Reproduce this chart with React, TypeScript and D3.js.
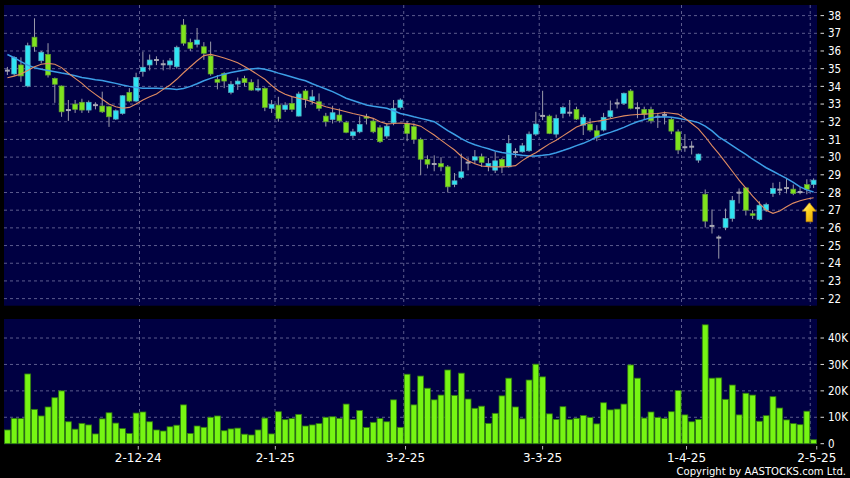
import React, { useEffect } from 'react';
import * as d3 from 'd3';

const opens = [34.9, 34.70, 35.21, 34.02, 36.78, 35.45, 35.81, 34.45, 34.02, 32.68,
 33.0, 33.1, 32.66, 32.95, 32.89, 32.85, 32.15, 32.47, 33.66, 33.17,
 34.83, 35.21, 35.5, 35.26, 35.21, 35.11, 37.47, 36.49, 36.38, 36.24,
 35.72, 34.40, 34.74, 33.66, 34.13, 34.45, 34.23, 33.79, 33.89, 32.76,
 32.94, 32.70, 33.04, 32.32, 33.74, 33.19, 33.13, 32.32, 32.13, 32.38,
 31.96, 31.21, 31.43, 32.3, 32.04, 31.66, 31.19, 31.94, 32.81, 31.91,
 31.72, 31.0, 29.87, 29.62, 29.64, 29.45, 28.45, 28.85, 29.7, 29.83,
 30.02, 29.49, 29.26, 29.87, 29.45, 30.3, 30.30, 30.36, 31.30, 32.34,
 32.32, 31.30, 32.47, 32.52, 32.70, 31.81, 31.87, 31.49, 31.53, 32.28,
 33.05, 33.04, 33.74, 32.78, 32.70, 32.70, 32.3, 32.4, 32.13, 31.43,
 30.57, 30.6, 29.83, 27.90, 26.12, 25.46, 26.02, 26.53, 28.0, 28.26,
 26.8, 26.47, 27.0, 27.94, 28.17, 28.26, 28.19, 28.03, 28.45, 28.45];

const highs = [35.1, 35.70, 35.64, 36.47, 37.85, 36.0, 36.44, 34.5, 34.05, 33.23,
 33.23, 33.3, 33.2, 33.1, 33.7, 32.9, 32.7, 33.5, 33.9, 34.77,
 35.96, 35.8, 35.7, 35.5, 35.6, 36.3, 37.81, 36.7, 37.3, 36.5,
 36.53, 34.64, 34.8, 34.3, 34.5, 34.6, 34.4, 34.4, 33.95, 33.23,
 33.41, 33.1, 33.41, 33.7, 33.85, 33.8, 33.6, 32.5, 32.9, 32.75,
 32.05, 31.6, 32.3, 32.45, 32.2, 31.8, 31.9, 33.23, 33.32, 32.05,
 31.9, 31.1, 30.1, 30.1, 30.0, 29.55, 29.1, 30.2, 29.95, 30.4,
 30.2, 29.95, 30.3, 29.95, 31.25, 30.5, 30.8, 31.45, 32.56, 33.75,
 32.4, 32.4, 32.9, 33.23, 32.85, 32.4, 32.2, 31.8, 32.5, 33.2,
 33.3, 33.65, 33.85, 33.1, 32.85, 32.85, 32.5, 32.58, 32.25, 31.57,
 31.30, 30.9, 30.2, 28.17, 27.04, 25.58, 27.09, 27.8, 28.23, 28.3,
 27.0, 27.5, 27.42, 28.55, 28.6, 28.79, 28.45, 28.3, 28.75, 28.8];

const lows = [34.64, 34.60, 34.26, 33.95, 35.96, 35.3, 34.5, 33.07, 32.28, 32.05,
 32.5, 32.5, 32.5, 32.7, 32.5, 31.71, 32.1, 32.4, 33.1, 33.1,
 34.55, 34.9, 35.2, 34.9, 34.95, 35.0, 36.3, 36.0, 36.2, 35.5,
 34.6, 33.83, 33.9, 33.55, 33.8, 34.0, 33.75, 33.7, 32.6, 32.5,
 32.0, 32.55, 32.55, 32.3, 32.79, 33.0, 32.6, 31.73, 31.9, 31.95,
 31.35, 31.05, 31.35, 31.85, 31.35, 30.8, 31.05, 31.8, 32.7, 30.9,
 30.75, 28.98, 29.36, 29.2, 29.2, 28.0, 28.3, 28.75, 29.25, 29.6,
 29.45, 29.2, 29.1, 29.1, 29.4, 30.0, 30.25, 30.3, 31.2, 32.09,
 31.3, 31.1, 32.2, 32.3, 32.1, 31.25, 31.43, 30.9, 31.45, 32.2,
 32.75, 32.95, 32.7, 32.2, 32.1, 31.9, 31.65, 31.85, 31.3, 30.17,
 30.30, 30.15, 29.68, 26.02, 25.68, 24.26, 25.87, 26.35, 27.38, 26.7,
 26.5, 26.4, 26.9, 27.75, 27.85, 27.95, 27.85, 27.9, 27.9, 28.25];

const closes = [34.88, 35.64, 34.59, 36.30, 36.24, 35.93, 34.64, 34.12, 32.56, 32.64,
 32.7, 32.66, 33.1, 32.93, 32.56, 32.28, 32.62, 33.47, 33.17, 34.51,
 35.08, 35.49, 35.48, 35.24, 35.44, 36.21, 36.44, 36.15, 36.62, 35.87,
 34.70, 34.23, 34.30, 34.12, 34.30, 34.21, 33.79, 33.89, 32.81, 32.98,
 32.19, 32.94, 32.70, 33.57, 33.27, 33.41, 32.76, 32.0, 32.51, 32.05,
 31.40, 31.43, 31.85, 32.2, 31.43, 30.87, 31.75, 32.76, 33.23, 31.34,
 31.0, 29.88, 29.6, 29.6, 29.45, 28.32, 28.66, 29.17, 29.68, 30.02,
 29.7, 29.64, 29.79, 29.45, 30.77, 30.27, 30.64, 31.30, 31.87, 32.32,
 31.34, 32.19, 32.8, 32.5, 32.15, 32.25, 31.53, 31.11, 32.25, 32.62,
 33.03, 33.61, 32.76, 32.76, 32.43, 32.05, 32.27, 32.37, 31.47, 30.40,
 30.55, 30.58, 30.17, 26.38, 26.10, 25.44, 26.53, 27.56, 27.98, 27.0,
 26.7, 27.28, 27.32, 28.23, 28.15, 28.24, 27.94, 28.02, 28.17, 28.70];

// volume in thousands of shares
const volumes = [5.2, 9.6, 9.5, 26.4, 13.0, 10.5, 13.9, 17.4, 20.0, 8.3,
 5.5, 7.7, 7.1, 3.7, 9.4, 11.7, 7.8, 5.7, 3.9, 11.6,
 12.0, 8.3, 5.2, 4.8, 6.4, 7.0, 14.7, 3.9, 6.7, 6.2,
 10.0, 10.5, 4.9, 5.6, 5.9, 3.6, 3.3, 5.2, 9.7, 3.7,
 12.1, 9.1, 9.5, 11.1, 6.7, 7.1, 7.6, 10.0, 10.2, 9.6,
 15.0, 9.2, 12.6, 6.1, 8.1, 9.5, 8.3, 16.6, 6.2, 26.3,
 14.7, 25.6, 21.0, 16.6, 18.4, 27.9, 18.3, 26.7, 16.9, 13.4,
 14.2, 7.7, 11.5, 18.1, 24.8, 13.9, 9.4, 24.1, 30.1, 25.3,
 11.3, 9.2, 14.0, 9.1, 9.6, 10.7, 9.9, 7.5, 15.5, 12.8,
 13.1, 15.0, 29.8, 24.8, 9.7, 12.0, 9.9, 9.5, 12.1, 20.1,
 10.9, 8.3, 9.2, 45.0, 24.8, 24.9, 16.8, 22.2, 10.9, 19.1,
 18.4, 8.5, 10.6, 17.8, 13.5, 9.0, 7.6, 7.2, 12.3, 1.5];

const maShort = [34.49, 34.58, 34.70, 34.90, 35.11, 35.25, 35.30, 35.25, 35.06, 34.74,
 34.45, 34.17, 33.83, 33.55, 33.27, 33.00, 32.85, 32.76, 32.81, 33.00,
 33.23, 33.41, 33.57, 33.83, 34.08, 34.40, 34.77, 35.11, 35.45, 35.74,
 35.81, 35.72, 35.60, 35.48, 35.33, 35.12, 34.90, 34.65, 34.40, 34.05,
 33.75, 33.55, 33.42, 33.33, 33.25, 33.12, 32.98, 32.85, 32.75, 32.66,
 32.57, 32.47, 32.38, 32.29, 32.19, 32.00, 31.88, 31.90, 31.93, 31.90,
 31.85, 31.75, 31.50, 31.25, 30.96, 30.68, 30.40, 30.05, 29.80, 29.62,
 29.50, 29.46, 29.45, 29.45, 29.47, 29.52, 29.80, 30.05, 30.25, 30.50,
 30.75, 30.95, 31.20, 31.45, 31.70, 31.85, 31.97, 32.03, 32.09, 32.17,
 32.25, 32.33, 32.38, 32.41, 32.43, 32.45, 32.47, 32.52, 32.48, 32.43,
 32.20, 31.90, 31.60, 31.15, 30.65, 30.20, 29.70, 29.20, 28.70, 28.25,
 27.80, 27.38, 27.00, 26.82, 26.95, 27.19, 27.40, 27.53, 27.63, 27.70];

const maLong = [35.80, 35.62, 35.40, 35.20, 35.05, 34.97, 34.90, 34.83, 34.75, 34.68,
 34.60, 34.50, 34.45, 34.38, 34.33, 34.25, 34.17, 34.08, 34.00, 33.93,
 33.90, 33.89, 33.89, 33.88, 33.86, 33.83, 33.88, 34.00, 34.15, 34.32,
 34.45, 34.58, 34.68, 34.78, 34.86, 34.93, 34.98, 35.02, 34.97, 34.87,
 34.75, 34.64, 34.53, 34.42, 34.32, 34.15, 34.00, 33.85, 33.70, 33.52,
 33.33, 33.20, 33.07, 32.95, 32.88, 32.82, 32.76, 32.62, 32.47, 32.38,
 32.28, 32.19, 32.10, 32.00, 31.75, 31.50, 31.28, 31.05, 30.85, 30.70,
 30.58, 30.47, 30.35, 30.26, 30.20, 30.15, 30.10, 30.07, 30.07, 30.10,
 30.15, 30.25, 30.37, 30.50, 30.65, 30.78, 30.95, 31.15, 31.28, 31.40,
 31.53, 31.68, 31.85, 32.00, 32.12, 32.23, 32.27, 32.28, 32.25, 32.20,
 32.12, 32.05, 31.95, 31.75, 31.48, 31.15, 30.90, 30.65, 30.40, 30.15,
 29.88, 29.64, 29.40, 29.20, 29.00, 28.80, 28.57, 28.32, 28.15, 28.03];

const priceTicks = [22, 23, 24, 25, 26, 27, 28, 29, 30, 31, 32, 33, 34, 35, 36, 37, 38];
const volumeTicks = [0, 10, 20, 30, 40];
const dateTickIndex = [20, 40, 59, 79, 100, 119];
const dateTickLabels = ['2-12-24', '2-1-25', '3-2-25', '3-3-25', '1-4-25', '2-5-25'];

const W = 850;
const H = 478;
const PLOT_L = 4;
const PLOT_R = 817;
const PRICE_TOP = 5;
const PRICE_BOTTOM = 305.7;
const VOL_TOP = 319;
const VOL_BOTTOM = 443.7;

const BG = '#000042';
const GRID = '#5c5c8e';
const UP = '#2fe4f2';
const UP_EDGE = '#5aa9bd';
const DOWN = '#7fe31e';
const DOWN_EDGE = '#62a033';
const DOJI = '#a8a8b4';
const WICK = '#9a9aaa';
const VOL_FILL = '#76f513';
const VOL_EDGE = '#2f7a10';

export default function App() {
  useEffect(() => {
    document.body.style.margin = '0';
    document.body.style.background = '#000';
  }, []);

  const idx = d3.range(closes.length);
  const x = d3.scaleBand<number>().domain(idx).range([PLOT_L, PLOT_R]).paddingInner(0).paddingOuter(0);
  const step = x.step();
  const cx = (i: number) => (x(i) as number) + step / 2;
  const gridX = (i: number) => PLOT_L + i * step;
  // date labels sit on a slightly wider scale than the bars
  const labelX = d3.scaleLinear().domain([0, closes.length]).range([1.2, 823.6]);
  const y = d3.scaleLinear().domain([21.6, 38.6]).range([PRICE_BOTTOM, PRICE_TOP]);
  const yv = d3.scaleLinear().domain([0, 47.2]).range([VOL_BOTTOM, VOL_TOP]);

  const maLine = d3.line<number>().x((_, i) => cx(i)).y((d) => y(d)).curve(d3.curveLinear);

  const bodyW = step * 0.72;
  const volW = step - 0.9;

  const axisFont = "'DejaVu Sans Condensed', 'DejaVu Sans', sans-serif";
  const dateFont = "'DejaVu Sans', sans-serif";

  const lastI = closes.length - 1;
  const arrowX = cx(lastI) - 4.3;
  const arrowY = y(maShort[lastI]) + 5;

  return (
    <svg width={W} height={H} style={{ display: 'block', position: 'absolute', left: 0, top: 0, background: '#000' }}>
      <defs>
        <clipPath id="priceClip">
          <rect x={PLOT_L} y={PRICE_TOP} width={PLOT_R - PLOT_L} height={PRICE_BOTTOM - PRICE_TOP} />
        </clipPath>
        <linearGradient id="arrowGrad" x1="0" y1="0" x2="1" y2="1">
          <stop offset="0%" stopColor="#fff7a0" />
          <stop offset="45%" stopColor="#ffd21c" />
          <stop offset="100%" stopColor="#e09a00" />
        </linearGradient>
      </defs>
      <rect x={0} y={0} width={W} height={H} fill="#000" />

      {/* price panel */}
      <rect x={PLOT_L} y={PRICE_TOP} width={PLOT_R - PLOT_L} height={PRICE_BOTTOM - PRICE_TOP} fill={BG} />
      {priceTicks.map((t) => (
        <line key={'pg' + t} x1={PLOT_L} x2={PLOT_R} y1={y(t)} y2={y(t)} stroke={GRID} strokeWidth={1} strokeDasharray="3,3" />
      ))}
      {dateTickIndex.map((i) => (
        <line key={'pv' + i} x1={gridX(i)} x2={gridX(i)} y1={PRICE_TOP} y2={PRICE_BOTTOM} stroke={GRID} strokeWidth={1} strokeDasharray="3,3" />
      ))}

      <g clipPath="url(#priceClip)">
        {idx.map((i) => {
          const o = opens[i];
          const c = closes[i];
          const diff = c - o;
          const isDoji = Math.abs(diff) < 0.045;
          const up = diff > 0;
          const top = y(Math.max(o, c));
          const bot = y(Math.min(o, c));
          const xc = cx(i);
          return (
            <g key={'c' + i}>
              <line x1={xc} x2={xc} y1={y(highs[i])} y2={y(lows[i])} stroke={WICK} strokeWidth={1} />
              {isDoji ? (
                <rect x={xc - bodyW / 2} y={(top + bot) / 2 - 1} width={bodyW} height={2} fill={DOJI} />
              ) : (
                <rect
                  x={xc - bodyW / 2}
                  y={top}
                  width={bodyW}
                  height={Math.max(1.5, bot - top)}
                  fill={up ? UP : DOWN}
                  stroke={up ? UP_EDGE : DOWN_EDGE}
                  strokeWidth={0.7}
                />
              )}
            </g>
          );
        })}
        <path d={maLine(maLong) || ''} fill="none" stroke="#3c9ee6" strokeWidth={1.5} />
        <path d={maLine(maShort) || ''} fill="none" stroke="#e08c62" strokeWidth={1.1} />
      </g>

      {/* arrow marker on the last bar */}
      <path
        transform={`translate(${arrowX},${arrowY})`}
        d="M0,0 L7,8.5 L3.3,8.5 L3.3,19 L-3.3,19 L-3.3,8.5 L-7,8.5 Z"
        fill="url(#arrowGrad)"
        stroke="#b57a00"
        strokeWidth={0.6}
      />

      {/* price axis */}
      {priceTicks.map((t) => (
        <g key={'pt' + t}>
          <line x1={820.5} x2={824} y1={y(t)} y2={y(t)} stroke="#ddd" strokeWidth={1} />
          <text x={828} y={y(t)} dy="0.36em" fill="#fff" fontSize={11.5} fontFamily={axisFont}>{t}</text>
        </g>
      ))}

      {/* volume panel */}
      <rect x={PLOT_L} y={VOL_TOP} width={PLOT_R - PLOT_L} height={VOL_BOTTOM - VOL_TOP + 0.6} fill={BG} />
      {volumeTicks.filter((t) => t > 0).map((t) => (
        <line key={'vg' + t} x1={PLOT_L} x2={PLOT_R} y1={yv(t)} y2={yv(t)} stroke={GRID} strokeWidth={1} strokeDasharray="3,3" />
      ))}
      {dateTickIndex.map((i) => (
        <line key={'vv' + i} x1={gridX(i)} x2={gridX(i)} y1={VOL_TOP} y2={VOL_BOTTOM} stroke={GRID} strokeWidth={1} strokeDasharray="3,3" />
      ))}
      {idx.map((i) => (
        <rect
          key={'v' + i}
          x={(x(i) as number) + (step - volW) / 2}
          y={yv(volumes[i])}
          width={volW}
          height={VOL_BOTTOM - yv(volumes[i])}
          fill={VOL_FILL}
          stroke={VOL_EDGE}
          strokeWidth={0.8}
        />
      ))}

      {/* volume axis */}
      {volumeTicks.map((t) => (
        <g key={'vt' + t}>
          <line x1={820.5} x2={824} y1={yv(t)} y2={yv(t)} stroke="#ddd" strokeWidth={1} />
          <text x={828} y={yv(t)} dy="0.36em" fill="#fff" fontSize={11.5} fontFamily={axisFont}>{t === 0 ? '0' : `${t}K`}</text>
        </g>
      ))}

      {/* date axis */}
      {dateTickIndex.map((i, k) => (
        <g key={'dt' + i}>
          <line x1={labelX(i)} x2={labelX(i)} y1={446} y2={449.5} stroke="#bbb" strokeWidth={1} />
          <text x={labelX(i)} y={462} textAnchor="middle" fill="#fff" fontSize={12} fontFamily={dateFont}>{dateTickLabels[k]}</text>
        </g>
      ))}

      <text x={846} y={475} textAnchor="end" fill="#fff" fontSize={11.2} fontFamily={axisFont}>Copyright by AASTOCKS.com Ltd.</text>
    </svg>
  );
}
